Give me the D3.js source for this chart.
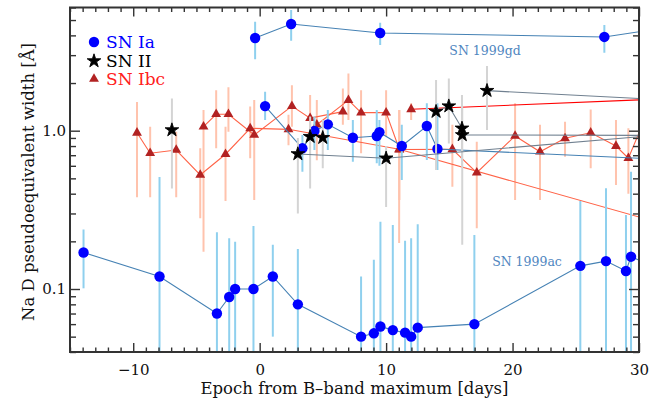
<!DOCTYPE html>
<html>
<head>
<meta charset="utf-8">
<script src="https://cdn.jsdelivr.net/npm/d3@7"></script>
<style>
  body { margin: 0; background: #fff; }
  text { font-family: "DejaVu Serif", serif; }
</style>
</head>
<body>
<div id="chart"></div>
<script>
// each row: [epoch (days), Na D width (A), lower, upper]
// rows with null limits are the next epoch past the right edge (only the line shows)

// SN Ia
var sn1999gd = [
    [-0.36, 3.85, 2.83, 4.88],
    [2.49, 4.72, 3.70, 5.79],
    [9.53, 4.14, 3.48, 4.81],
    [27.26, 3.91, 3.11, 4.65],
    [32.0, 4.46, null, null]
];
var sn1999ac = [
    [-13.93, 0.170, 0.101, 0.238],
    [-7.92, 0.120, 0.001, 0.51],
    [-3.38, 0.070, 0.001, 0.228],
    [-2.41, 0.089, 0.001, 0.209],
    [-1.94, 0.100, 0.001, 0.199],
    [-0.49, 0.100, 0.001, 0.25],
    [1.04, 0.120, 0.05, 0.19],
    [3.02, 0.080, 0.001, 0.179],
    [8.02, 0.050, 0.001, 0.12],
    [9.03, 0.0525, 0.001, 0.153],
    [9.55, 0.058, 0.001, 0.266],
    [10.53, 0.055, 0.001, 0.254],
    [11.5, 0.053, 0.001, 0.202],
    [11.98, 0.050, 0.001, 0.209],
    [12.5, 0.057, 0.001, 0.256],
    [16.98, 0.060, 0.001, 0.219],
    [25.36, 0.140, 0.001, 0.36],
    [27.39, 0.150, 0.001, 0.433],
    [28.97, 0.130, 0.001, 0.293],
    [29.37, 0.160, 0.001, 0.551],
    [31.5, 0.135, null, null]
];
var snIaMid = [
    [0.43, 1.43, 1.17, 1.76],
    [3.38, 0.774, 0.551, 0.94],
    [4.33, 0.996, 0.755, 1.23],
    [5.39, 1.097, 0.755, 1.35],
    [7.37, 0.903, 0.637, 1.17],
    [9.26, 0.926, 0.622, 1.35],
    [9.47, 0.977, 0.60, 1.17],
    [11.24, 0.80, 0.488, 1.09],
    [13.22, 1.07, 0.653, 1.49],
    [14.06, 0.766, 0.565, 1.49],
    [40.0, 0.616, null, null]
];

// SN II
var snIIa = [[-6.94, 1.01, 0.432, 1.6]];
var snIIb = [
    [3.02, 0.713, 0.30, 0.90],
    [10.0, 0.67, 0.33, 0.80],
    [40.0, 1.07, null, null]
];
var snIIc = [[3.99, 0.917, 0.432, 1.23]];
var snIId = [[4.99, 0.903, 0.58, 1.17]];
var snIIe = [
    [13.95, 1.32, 0.565, 2.09],
    [14.96, 1.43, 0.83, 2.14],
    [16.0, 1.035, 0.60, 1.68],
    [16.02, 0.94, 0.19, 1.40],
    [40.0, 0.93, null, null]
];
var snIIf = [
    [17.98, 1.79, 1.01, 2.56],
    [40.0, 1.45, null, null]
];

// SN Ibc
var snIbcA = [
    [-9.70, 0.97, 0.38, 1.52],
    [-8.66, 0.72, 0.38, 1.06],
    [-6.60, 0.755, 0.38, 0.985],
    [-4.70, 0.525, 0.28, 0.774],
    [-2.70, 0.71, 0.36, 1.06],
    [-0.75, 1.035, 0.67, 1.42],
    [2.28, 1.02, 0.81, 1.26],
    [11.03, 0.763, 0.195, 1.35],
    [35.0, 0.22, null, null]
];
var snIbcB = [
    [-4.44, 1.06, 0.172, 1.35],
    [-3.44, 1.27, 0.774, 1.80],
    [-2.47, 1.27, 0.985, 1.88],
    [-0.43, 0.94, 0.365, 1.56],
    [2.55, 1.43, 1.06, 1.94],
    [3.99, 1.20, 0.92, 1.68],
    [6.58, 1.32, 1.09, 1.85]
];
var snIbcC = [
    [4.52, 1.09, 0.65, 1.56],
    [7.02, 1.56, 1.17, 2.30],
    [8.02, 1.30, 0.72, 1.80],
    [10.0, 1.30, 0.92, 1.80],
    [11.05, 0.76, 0.365, 1.35],
    [15.24, 0.763, 0.443, 1.09],
    [17.17, 0.543, 0.242, 0.852],
    [20.2, 0.926, 0.365, 1.49],
    [22.17, 0.736, 0.365, 1.09],
    [24.15, 0.895, 0.685, 1.14],
    [26.18, 0.97, 0.58, 1.36],
    [28.18, 0.80, 0.454, 1.17],
    [29.16, 0.67, 0.40, 1.035],
    [31.0, 1.5, null, null]
];
var snIbcD = [
    [11.98, 1.365, 1.17, 1.49],
    [40.0, 1.69, null, null]
];

var xMajor = [-10, 0, 10, 20, 30];
var yMajor = [0.1, 1.0];
var legendNames = ["SN Ia", "SN II", "SN Ibc"];

var width = 662,
    height = 400;
var plotL = 70, plotR = 639, plotT = 7.5, plotB = 352;

var x = d3.scaleLinear().domain([-15, 30]).range([plotL, plotR]);
var y = d3.scaleLog().domain([0.04, 6]).range([plotB, plotT]);

var style = {
    ia:  { bar: "#8fd0ee", line: "#4682b4", fill: "#0000ff" },
    ii:  { bar: "#d4d4d4", line: "#708090", fill: "#000000" },
    ibc: { bar: "#ffc3ad", line: "#ff6347", fill: "#b22222" }
};

// drawing order: Ibc underneath, then Ia, stars on top
var series = [
    { rows: snIbcA, kind: "ibc" },
    { rows: snIbcB, kind: "ibc" },
    { rows: snIbcC, kind: "ibc" },
    { rows: snIbcD, kind: "ibc", line: "#ff0000" },
    { rows: sn1999gd, kind: "ia" },
    { rows: sn1999ac, kind: "ia" },
    { rows: snIaMid, kind: "ia" },
    { rows: snIIa, kind: "ii" },
    { rows: snIIb, kind: "ii" },
    { rows: snIIc, kind: "ii" },
    { rows: snIId, kind: "ii" },
    { rows: snIIe, kind: "ii" },
    { rows: snIIf, kind: "ii" }
];

var svg = d3.select("#chart")
    .append("svg")
    .attr("width", width)
    .attr("height", height);

svg.append("defs").append("clipPath")
    .attr("id", "plotclip")
    .append("rect")
    .attr("x", plotL)
    .attr("y", plotT)
    .attr("width", plotR - plotL)
    .attr("height", plotB - plotT);

var plot = svg.append("g").attr("clip-path", "url(#plotclip)");

var starSym = d3.symbol().type(d3.symbolStar).size(58);
var triSym = d3.symbol().type(d3.symbolTriangle).size(42);

var lineGen = d3.line()
    .x(function (d) { return x(d[0]); })
    .y(function (d) { return y(d[1]); });

function drawMarker(sel, kind) {
    if (kind == "ia") {
        sel.append("circle").attr("r", 5.2).attr("fill", style.ia.fill);
    } else if (kind == "ii") {
        sel.append("path").attr("d", starSym)
            .attr("fill", style.ii.fill)
            .attr("stroke", style.ii.fill)
            .attr("stroke-width", 0.9)
            .attr("stroke-linejoin", "round");
    } else {
        sel.append("path").attr("d", triSym).attr("fill", style.ibc.fill);
    }
}

["ibc", "ia", "ii"].forEach(function (kind) {
    var group = series.filter(function (s) { return s.kind == kind; });
    var st = style[kind];
    var g = plot.append("g").attr("class", kind);

    group.forEach(function (s) {
        g.append("g")
            .selectAll("line")
            .data(s.rows.filter(function (d) { return d[2] != null; }))
            .enter().append("line")
              .attr("x1", function (d) { return x(d[0]); })
              .attr("x2", function (d) { return x(d[0]); })
              .attr("y1", function (d) { return y(d[2]); })
              .attr("y2", function (d) { return y(d[3]); })
              .attr("stroke", st.bar)
              .attr("stroke-width", 2);
    });

    group.forEach(function (s) {
        if (s.rows.length < 2) return;
        g.append("path")
            .datum(s.rows)
            .attr("d", lineGen)
            .attr("fill", "none")
            .attr("stroke", s.line || st.line)
            .attr("stroke-width", 1.1);
    });

    group.forEach(function (s) {
        var m = g.append("g")
            .selectAll("g")
            .data(s.rows)
            .enter().append("g")
              .attr("transform", function (d) { return "translate(" + x(d[0]) + "," + y(d[1]) + ")"; });
        drawMarker(m, kind);
    });
});

// labels for the two highlighted SNe Ia
svg.append("text")
    .attr("x", 485).attr("y", 55)
    .attr("text-anchor", "middle")
    .attr("font-size", 12.5)
    .attr("fill", "#4f86c0")
    .text("SN 1999gd");
svg.append("text")
    .attr("x", 527).attr("y", 266)
    .attr("text-anchor", "middle")
    .attr("font-size", 12.5)
    .attr("fill", "#4f86c0")
    .text("SN 1999ac");

// axes: ticks point inwards on all four sides
var xMinor = d3.range(-15, 31, 1).filter(function (d) { return xMajor.indexOf(d) < 0; });
var yMinor = y.ticks().filter(function (d) { return yMajor.indexOf(+d.toPrecision(3)) < 0; });

function fmtX(d) { return d < 0 ? "\u2212" + Math.abs(d) : d; }

svg.append("g")
    .attr("transform", "translate(0," + plotB + ")")
    .call(d3.axisBottom(x).tickValues(xMajor).tickSize(-9).tickSizeOuter(0).tickPadding(12).tickFormat(fmtX));
svg.append("g")
    .attr("transform", "translate(0," + plotB + ")")
    .call(d3.axisBottom(x).tickValues(xMinor).tickSize(-4.5).tickSizeOuter(0).tickFormat(""));
svg.append("g")
    .attr("transform", "translate(0," + plotT + ")")
    .call(d3.axisTop(x).tickValues(xMajor).tickSize(-9).tickSizeOuter(0).tickFormat(""));
svg.append("g")
    .attr("transform", "translate(0," + plotT + ")")
    .call(d3.axisTop(x).tickValues(xMinor).tickSize(-4.5).tickSizeOuter(0).tickFormat(""));

svg.append("g")
    .attr("transform", "translate(" + plotL + ",0)")
    .call(d3.axisLeft(y).tickValues(yMajor).tickSize(-10).tickSizeOuter(0).tickPadding(4).tickFormat(d3.format(".1f")));
svg.append("g")
    .attr("transform", "translate(" + plotL + ",0)")
    .call(d3.axisLeft(y).tickValues(yMinor).tickSize(-6).tickSizeOuter(0).tickFormat(""));
svg.append("g")
    .attr("transform", "translate(" + plotR + ",0)")
    .call(d3.axisRight(y).tickValues(yMajor).tickSize(-10).tickSizeOuter(0).tickFormat(""));
svg.append("g")
    .attr("transform", "translate(" + plotR + ",0)")
    .call(d3.axisRight(y).tickValues(yMinor).tickSize(-6).tickSizeOuter(0).tickFormat(""));

svg.selectAll(".domain").remove();
svg.selectAll(".tick line").attr("stroke", "#333").attr("stroke-width", 1.4);
svg.selectAll(".tick text")
    .attr("font-family", "DejaVu Serif, serif")
    .attr("font-size", 15)
    .attr("fill", "#111");

svg.append("rect")
    .attr("x", plotL).attr("y", plotT)
    .attr("width", plotR - plotL).attr("height", plotB - plotT)
    .attr("fill", "none")
    .attr("stroke", "#333")
    .attr("stroke-width", 2);

svg.append("text")
    .attr("x", (plotL + plotR) / 2)
    .attr("y", 394)
    .attr("text-anchor", "middle")
    .attr("font-size", 16.5)
    .attr("fill", "#111")
    .text("Epoch from B\u2013band maximum [days]");

svg.append("text")
    .attr("transform", "translate(34," + 182 + ") rotate(-90)")
    .attr("text-anchor", "middle")
    .attr("font-size", 16.5)
    .attr("fill", "#111")
    .text("Na D pseudoequivalent width [\u00c5]");

// legend
var legColors = [style.ia.fill, "#000000", "#ff2020"];
var leg = svg.append("g").attr("transform", "translate(94,0)");
var legY = [42, 61, 79];
legendNames.forEach(function (name, i) {
    var kind = ["ia", "ii", "ibc"][i];
    var m = leg.append("g").attr("transform", "translate(0," + legY[i] + ")");
    drawMarker(m, kind);
    leg.append("text")
        .attr("x", 12)
        .attr("y", legY[i] + 6)
        .attr("font-size", 17)
        .attr("fill", legColors[i])
        .text(name);
});
</script>
</body>
</html>
